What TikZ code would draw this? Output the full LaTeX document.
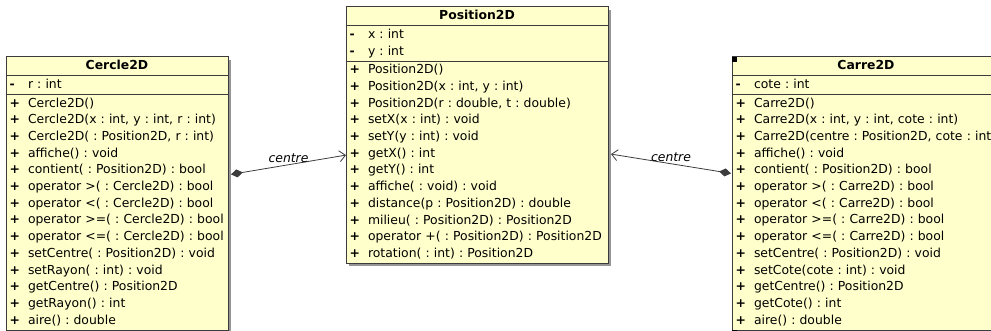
\documentclass[tikz,border=0pt]{standalone}
\usepackage{fontspec}
\setmainfont{DejaVu Sans}
\usetikzlibrary{positioning,shadows,arrows.meta}

\definecolor{umlfill}{RGB}{255,255,204}
\definecolor{umlline}{RGB}{60,60,60}
\definecolor{umlshadow}{RGB}{150,150,150}

\newcommand{\umlsize}{\fontsize{12.4pt}{16.7pt}\selectfont\frenchspacing}
\newcommand{\umlpub}{\strut\makebox[18.5pt][l]{\textbf{+}}}
\newcommand{\umlpriv}{\strut\makebox[18.5pt][l]{\textbf{-}}}

\tikzset{
  umlpart/.style={draw=umlline, fill=umlfill, line width=1pt, outer sep=0pt,
    text width=#1, align=left, inner xsep=3.5pt, inner ysep=1pt, anchor=north,
    font=\umlsize,
    drop shadow={shadow xshift=3pt, shadow yshift=-3pt, fill=umlshadow, opacity=1}},
  umlname/.style={umlpart=#1, align=center, font=\umlsize\bfseries},
  composition/.style={draw=umlline, line width=0.8pt,
    {Diamond[length=12pt,width=8pt]}-{Straight Barb[length=6pt,width=11pt]}},
  role/.style={midway, above, font=\umlsize\itshape, inner sep=2pt},
}

\begin{document}
\begin{tikzpicture}[x=1pt,y=-1pt]
\useasboundingbox (0,0) rectangle (991,331);
\clip (0,0) rectangle (991,331);

% Position2D
\node [umlname=255pt] (posT) at (477,7) {\strut Position2D};
\node [umlpart=255pt, below=0pt of posT] (posA) {\umlpriv x : int\\
\umlpriv y : int};
\node [umlpart=255pt, below=0pt of posA] (posM) {\umlpub Position2D()\\
\umlpub Position2D(x : int, y : int)\\
\umlpub Position2D(r : double, t : double)\\
\umlpub setX(x : int) : void\\
\umlpub setY(y : int) : void\\
\umlpub getX() : int\\
\umlpub getY() : int\\
\umlpub affiche( : void) : void\\
\umlpub distance(p : Position2D) : double\\
\umlpub milieu( : Position2D) : Position2D\\
\umlpub operator +( : Position2D) : Position2D\\
\umlpub rotation( : int) : Position2D};

% Cercle2D
\node [umlname=215pt] (cercleT) at (117,57) {\strut Cercle2D};
\node [umlpart=215pt, below=0pt of cercleT] (cercleA) {\umlpriv r : int};
\node [umlpart=215pt, below=0pt of cercleA] (cercleM) {\umlpub Cercle2D()\\
\umlpub Cercle2D(x : int, y : int, r : int)\\
\umlpub Cercle2D( : Position2D, r : int)\\
\umlpub affiche() : void\\
\umlpub contient( : Position2D) : bool\\
\umlpub operator >( : Cercle2D) : bool\\
\umlpub operator <( : Cercle2D) : bool\\
\umlpub operator >=( : Cercle2D) : bool\\
\umlpub operator <=( : Cercle2D) : bool\\
\umlpub setCentre( : Position2D) : void\\
\umlpub setRayon( : int) : void\\
\umlpub getCentre() : Position2D\\
\umlpub getRayon() : int\\
\umlpub aire() : double};

% Carre2D
\node [umlname=261pt] (carreT) at (866,57) {\strut Carre2D};
\node [umlpart=261pt, below=0pt of carreT] (carreA) {\umlpriv cote : int};
\node [umlpart=261pt, below=0pt of carreA] (carreM) {\umlpub Carre2D()\\
\umlpub Carre2D(x : int, y : int, cote : int)\\
\umlpub Carre2D(centre : Position2D, cote : int)\\
\umlpub affiche() : void\\
\umlpub contient( : Position2D) : bool\\
\umlpub operator >( : Carre2D) : bool\\
\umlpub operator <( : Carre2D) : bool\\
\umlpub operator >=( : Carre2D) : bool\\
\umlpub operator <=( : Carre2D) : bool\\
\umlpub setCentre( : Position2D) : void\\
\umlpub setCote(cote : int) : void\\
\umlpub getCentre() : Position2D\\
\umlpub getCote() : int\\
\umlpub aire() : double};

% selection handles
\fill [black] (carreT.north west) rectangle ++(5,5);
\fill [black] (carreM.south west) rectangle ++(5,5);

% compositions
\draw [composition] ([xshift=3pt,yshift=-80pt]cercleM.north east) -- node [role] {centre} ([yshift=-94pt]posM.north west);
\draw [composition] ([xshift=-1pt,yshift=-79pt]carreM.north west) -- node [role] {centre} ([xshift=3pt,yshift=-93pt]posM.north east);
\end{tikzpicture}
\end{document}
